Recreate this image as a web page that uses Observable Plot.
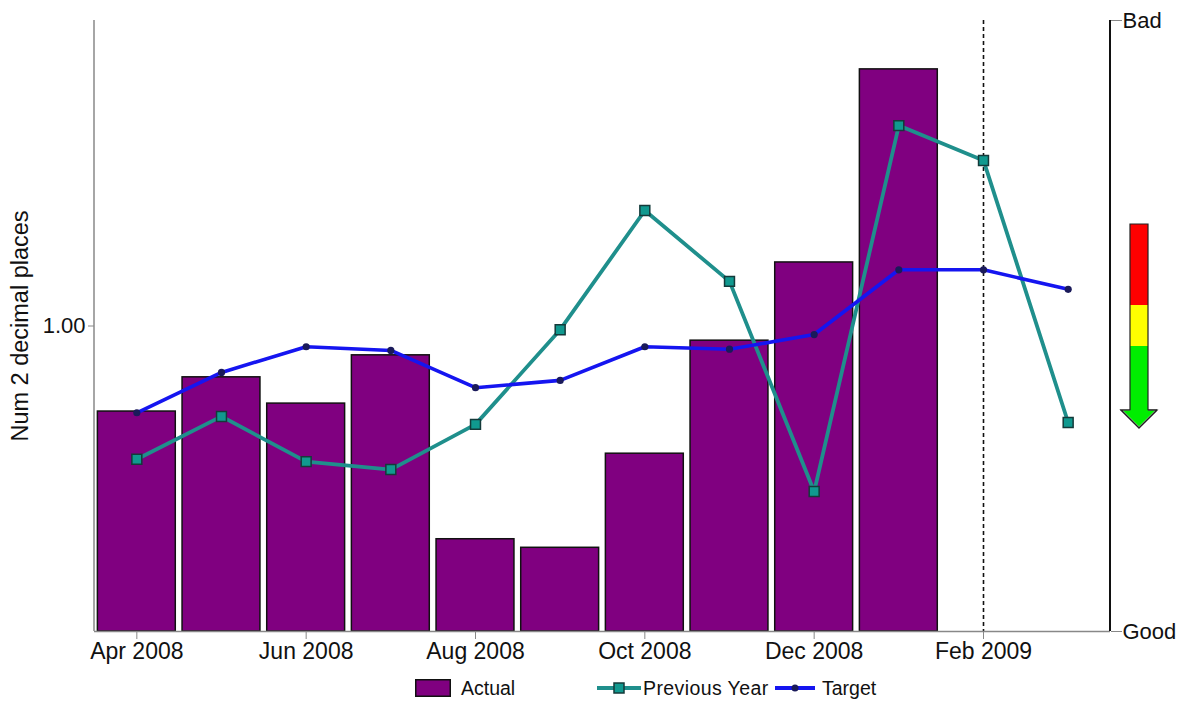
<!DOCTYPE html>
<html>
<head>
<meta charset="utf-8">
<script src="https://cdn.jsdelivr.net/npm/d3@7"></script>
<script src="https://cdn.jsdelivr.net/npm/@observablehq/plot@0.6"></script>
<style>
  body { margin: 0; background: #fff; font-family: "Liberation Sans", Arial, sans-serif; }
  #wrap { position: relative; width: 1188px; height: 702px; overflow: hidden; }
  #legend { position: absolute; left: 0; top: 677px; width: 1188px; height: 22px; font-size: 19.5px; color: #111; }
  .li { position: absolute; top: 0; display: flex; align-items: center; height: 22px; }
  #arrow { position: absolute; left: 0; top: 0; }
</style>
</head>
<body>
<div id="wrap">
  <div id="chart"></div>
  <div id="legend">
    <div class="li" style="left:415px"><svg width="36" height="18"><rect x="0.75" y="0.75" width="34.5" height="16.5" fill="#800080" stroke="#111" stroke-width="1.5"/></svg><span style="margin-left:10px">Actual</span></div>
    <div class="li" style="left:597px"><svg width="44" height="18"><line x1="0" y1="9" x2="44" y2="9" stroke="#1f8f8c" stroke-width="4"/><rect x="17" y="4" width="10" height="10" fill="#10998f" stroke="#143a3a" stroke-width="1.5"/></svg><span style="margin-left:2px;letter-spacing:0.4px">Previous Year</span></div>
    <div class="li" style="left:775px"><svg width="40" height="18"><line x1="0" y1="9" x2="40" y2="9" stroke="#1515f0" stroke-width="4"/><circle cx="20" cy="9" r="3.5" fill="#1a1a5a"/></svg><span style="margin-left:7px">Target</span></div>
  </div>
  <svg id="arrow" width="1188" height="702">
    <rect x="1130" y="224" width="18" height="81" fill="#ff0000"/>
    <rect x="1130" y="305" width="18" height="41" fill="#ffff00"/>
    <rect x="1130" y="346" width="18" height="65" fill="#00ee00"/>
    <polygon points="1130,224 1148,224 1148,410 1157,410 1139,428 1121,410 1130,410" fill="none" stroke="#222" stroke-width="1.2"/>
    <polygon points="1130.6,410.6 1147.4,410.6 1155,410.6 1139,426.5 1123,410.6" fill="#00ee00"/>
    <polyline points="1157,410 1139,428 1121,410 1130,410" fill="none" stroke="#222" stroke-width="1.2"/>
    <polyline points="1148,410 1157,410" fill="none" stroke="#222" stroke-width="1.2"/>
  </svg>
</div>
<script>
const months = ["Apr 2008","May 2008","Jun 2008","Jul 2008","Aug 2008","Sep 2008","Oct 2008","Nov 2008","Dec 2008","Jan 2009","Feb 2009","Mar 2009"];
const actual = [0.860, 0.916, 0.873, 0.952, 0.651, 0.637, 0.791, 0.976, 1.104, 1.420, null, null];
const previousYear = [0.782, 0.852, 0.778, 0.765, 0.839, 0.994, 1.189, 1.073, 0.729, 1.328, 1.271, 0.842];
const target = [0.858, 0.924, 0.966, 0.960, 0.899, 0.911, 0.966, 0.962, 0.986, 1.092, 1.092, 1.060];
const xTickLabels = ["Apr 2008","Jun 2008","Aug 2008","Oct 2008","Dec 2008","Feb 2009"];
const yTicks = [1.00];
const yDomain = [0.5, 1.5];
const rightLabels = ["Good", "Bad"];
const markerMonth = "Feb 2009";
const yLabel = "Num 2 decimal places";

const actualData = months.map((m, i) => ({month: m, value: actual[i]})).filter(d => d.value != null);
const prevData = months.map((m, i) => ({month: m, value: previousYear[i]}));
const targetData = months.map((m, i) => ({month: m, value: target[i]}));

const W = 1188, H = 672, mL = 94, mR = 78, mT = 20, mB = 41;

const chart = Plot.plot({
  width: W, height: H,
  marginLeft: mL, marginRight: mR, marginTop: mT, marginBottom: mB,
  style: {fontFamily: '"Liberation Sans", Arial, sans-serif', fontSize: "23px", color: "#111", background: "white"},
  x: {type: "band", domain: months, paddingInner: 0.08, paddingOuter: 0.04, round: false},
  y: {domain: yDomain},
  marks: [
    Plot.barY(actualData, {x: "month", y1: yDomain[0], y2: "value", fill: "#800080", stroke: "#111", strokeWidth: 1.5}),
    Plot.ruleX([markerMonth], {stroke: "#111", strokeWidth: 1.6, strokeDasharray: "4,3"}),
    Plot.ruleY([yDomain[0]], {stroke: "#888", strokeWidth: 1.5}),
    Plot.lineY(prevData, {x: "month", y: "value", stroke: "#1f8f8c", strokeWidth: 3.8}),
    Plot.dot(prevData, {x: "month", y: "value", symbol: "square", r: 5.6, fill: "#10998f", stroke: "#143a3a", strokeWidth: 1.5}),
    Plot.lineY(targetData, {x: "month", y: "value", stroke: "#1515f0", strokeWidth: 3.6}),
    Plot.dot(targetData, {x: "month", y: "value", r: 3.6, fill: "#1a1a5a", stroke: "none"}),
    Plot.axisX({ticks: xTickLabels, tickSize: 8, tickPadding: 3, fontSize: 23, stroke: "#888", fill: "#111", label: null}),
    Plot.axisY({ticks: yTicks, tickFormat: d3.format(".2f"), tickSize: 6, tickPadding: 3, fontSize: 22, stroke: "#888", fill: "#111", label: null}),
    Plot.axisY({anchor: "right", ticks: yDomain, tickFormat: (d, i) => rightLabels[i], tickSize: 11, tickPadding: 1, fontSize: 22, stroke: "#888", fill: "#111", label: null}),
    Plot.text([yLabel], {frameAnchor: "left", rotate: -90, dx: -74, textAnchor: "middle", fontSize: 23.5, fill: "#111"})
  ]
});
document.getElementById("chart").appendChild(chart);

// axis lines for left (grey) and right (black) edges of the frame, from the scales
const xs = chart.scale("x"), ys = chart.scale("y");
const svg = d3.select(chart);
const [x0, x1] = xs.range;
const [yb, yt] = ys.range;
svg.append("line").attr("x1", x0).attr("x2", x0).attr("y1", yt).attr("y2", yb).attr("stroke", "#888").attr("stroke-width", 1.5);
svg.append("line").attr("x1", x1).attr("x2", x1).attr("y1", yt).attr("y2", yb).attr("stroke", "#111").attr("stroke-width", 2);
</script>
</body>
</html>
